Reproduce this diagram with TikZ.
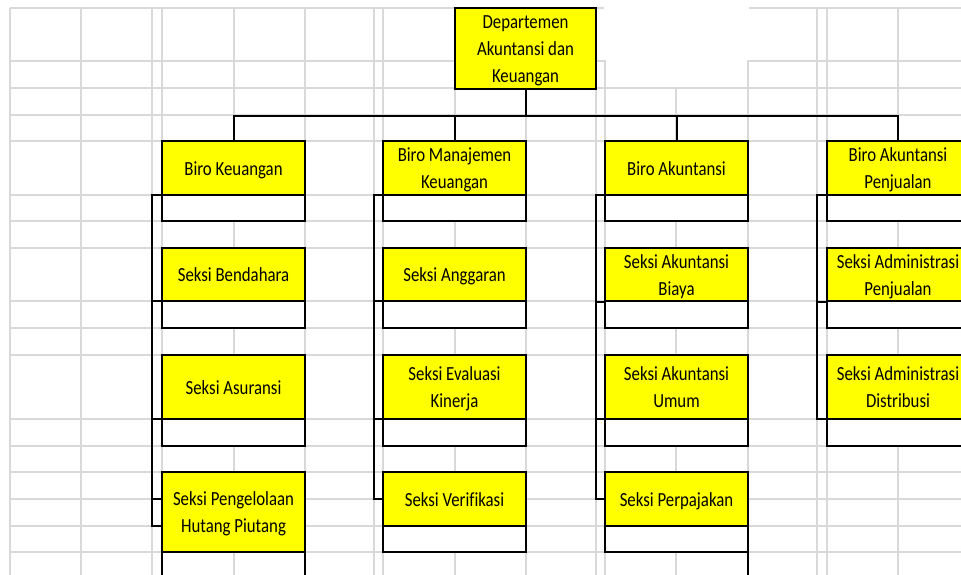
\documentclass[tikz,border=0pt]{standalone}
\usepackage{fontspec}
\setmainfont{Carlito}[FakeStretch=0.84, Ligatures=NoCommon]
\usetikzlibrary{calc}
\definecolor{gridgray}{RGB}{217,217,217}
\definecolor{boxyellow}{RGB}{255,255,0}
\newcommand{\tb}[1]{\raisebox{-2pt}[\height][\depth]{\begin{tabular}{@{}c@{}}#1\end{tabular}}}
\tikzset{
  gridline/.style={draw=gridgray, line width=1.3pt},
  boxbase/.style={draw=black, line width=2pt, inner sep=0pt, outer sep=0pt, anchor=north west, minimum width=143pt},
  ybox/.style={boxbase, fill=boxyellow, font=\fontsize{20}{27}\selectfont},
  wbox/.style={boxbase, fill=white},
  conn/.style={draw=black, line width=2pt},
  bline/.style={draw=black, line width=2pt}
}
\begin{document}
\begin{tikzpicture}[x=1pt,y=-1pt]
\useasboundingbox (0,0) rectangle (961,574);
\clip (0,0) rectangle (961,574);
% spreadsheet grid
\foreach \x in {10,81,152,162,234,305,374,383,455,526,596,605,676,748,817,827,898,969}
  \draw[gridline] (\x,8) -- (\x,590);
\foreach \y in {8,61,88,115,141,195,221,248,301,328,355,419,446,472,499,526,552,579}
  \draw[gridline] (10,\y) -- (980,\y);
% merged empty cells at the top
\fill[white] (604.4,4) rectangle (748.6,60.4);
\fill[white] (605.7,60) rectangle (747.3,87.3);

% top box
\node[ybox, minimum width=141pt, minimum height=80pt] (dept) at (455,8) {\tb{Departemen\\Akuntansi dan\\Keuangan}};

% column 1
\node[ybox, minimum height=54pt] (b1) at (162,141) {\tb{Biro Keuangan}};
\node[wbox, minimum height=26pt] (b1w) at (162,195) {};
\node[ybox, minimum height=53pt] (s11) at (162,248) {\tb{Seksi Bendahara}};
\node[wbox, minimum height=27pt] (s11w) at (162,301) {};
\node[ybox, minimum height=64pt] (s12) at (162,355) {\tb{Seksi Asuransi}};
\node[wbox, minimum height=27pt] (s12w) at (162,419) {};
\node[ybox, minimum height=80pt] (s13) at (162,472) {\tb{Seksi Pengelolaan\\Hutang Piutang}};
\draw[bline] (s13.south west) -- ++(0,30);
\draw[bline] (s13.south east) -- ++(0,30);

% column 2
\node[ybox, minimum height=54pt] (b2) at (383,141) {\tb{Biro Manajemen\\Keuangan}};
\node[wbox, minimum height=26pt] (b2w) at (383,195) {};
\node[ybox, minimum height=53pt] (s21) at (383,248) {\tb{Seksi Anggaran}};
\node[wbox, minimum height=27pt] (s21w) at (383,301) {};
\node[ybox, minimum height=64pt] (s22) at (383,355) {\tb{Seksi Evaluasi\\Kinerja}};
\node[wbox, minimum height=27pt] (s22w) at (383,419) {};
\node[ybox, minimum height=54pt] (s23) at (383,472) {\tb{Seksi Verifikasi}};
\node[wbox, minimum height=26pt] (s23w) at (383,526) {};

% column 3
\node[ybox, minimum height=54pt] (b3) at (605,141) {\tb{Biro Akuntansi}};
\node[wbox, minimum height=26pt] (b3w) at (605,195) {};
\node[ybox, minimum height=53pt] (s31) at (605,248) {\tb{Seksi Akuntansi\\Biaya}};
\node[wbox, minimum height=27pt] (s31w) at (605,301) {};
\node[ybox, minimum height=64pt] (s32) at (605,355) {\tb{Seksi Akuntansi\\Umum}};
\node[wbox, minimum height=27pt] (s32w) at (605,419) {};
\node[ybox, minimum height=54pt] (s33) at (605,472) {\tb{Seksi Perpajakan}};
\node[wbox, minimum height=26pt] (s33w) at (605,526) {};
\draw[bline] (s33w.south east) -- ++(0,30);

% column 4
\node[ybox, minimum width=142pt, minimum height=54pt] (b4) at (827,141) {\tb{Biro Akuntansi\\Penjualan}};
\node[wbox, minimum width=142pt, minimum height=26pt] (b4w) at (827,195) {};
\node[ybox, minimum width=142pt, minimum height=53pt] (s41) at (827,248) {\tb{Seksi Administrasi\\Penjualan}};
\node[wbox, minimum width=142pt, minimum height=27pt] (s41w) at (827,301) {};
\node[ybox, minimum width=142pt, minimum height=64pt] (s42) at (827,355) {\tb{Seksi Administrasi\\Distribusi}};
\node[wbox, minimum width=142pt, minimum height=27pt] (s42w) at (827,419) {};

% connectors from the top box
\draw[conn] (dept.south) -- ++(0,27) coordinate (bus);
\draw[conn] (bus) -| (b1.north);
\draw[conn] (bus) -| (b4.north);
\draw[conn] (bus -| b2.north) -- (b2.north);
\draw[conn] (bus -| b3.north) -- (b3.north);

% column connectors
\draw[conn] (b1.south west) -- ++(-10,0) |- ($(s13.north west)+(0,54)$);
\draw[conn] (s11.south west) -- ++(-10,0);
\draw[conn] (s12.south west) -- ++(-10,0);
\draw[conn] ($(s13.north west)+(0,27)$) -- ++(-10,0);

\draw[conn] (b2.south west) -- ++(-9,0) |- (s23.west);
\draw[conn] (s21.south west) -- ++(-9,0);
\draw[conn] (s22.south west) -- ++(-9,0);

\draw[conn] (b3.south west) -- ++(-9,0) |- (s33.west);
\draw[conn] (s31.south west) -- ++(-9,0);
\draw[conn] (s32.south west) -- ++(-9,0);

\draw[conn] (b4.south west) -- ++(-10,0) |- (s42.south west);
\draw[conn] (s41.south west) -- ++(-10,0);
\end{tikzpicture}
\end{document}
